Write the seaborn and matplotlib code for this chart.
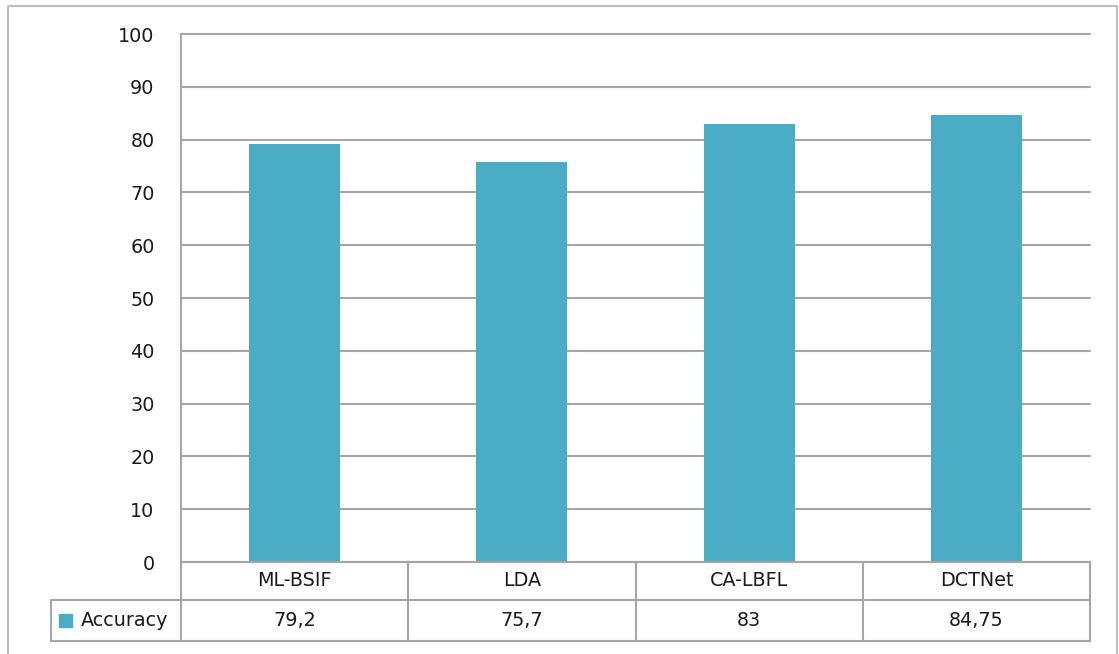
import matplotlib
matplotlib.use("Agg")
import matplotlib.pyplot as plt
import matplotlib.transforms as mtransforms
from matplotlib.patches import Rectangle
from matplotlib.lines import Line2D
import seaborn as sns
import pandas as pd

# Data
methods = ["ML-BSIF", "LDA", "CA-LBFL", "DCTNet"]
accuracy = [79.2, 75.7, 83, 84.75]
value_labels = ["79,2", "75,7", "83", "84,75"]
series_name = "Accuracy"
y_ticks = [0, 10, 20, 30, 40, 50, 60, 70, 80, 90, 100]

W, H = 1119, 654
BAR = "#4bacc6"
GRID = "#a6a6a6"
TXT = "#1a1a1a"
FS = 13.8

sns.set_theme(style="white")
plt.rcParams["font.family"] = ["DejaVu Sans"]

fig = plt.figure(figsize=(W / 100, H / 100), dpi=100)

def fx(x):
    return x / W

def fy(y):
    return 1 - y / H

# plot area in pixel coordinates
L, R, T, B = 181, 1090, 34, 562
ax = fig.add_axes([fx(L), fy(B), fx(R) - fx(L), fy(T) - fy(B)])

df = pd.DataFrame({"method": methods, "accuracy": accuracy})
sns.barplot(data=df, x="method", y="accuracy", color=BAR, saturation=1,
            width=0.4, ax=ax, zorder=3, linewidth=0)

ax.set_xlim(-0.5, len(methods) - 0.5)
ax.set_ylim(0, 100)
ax.set_yticks(y_ticks)
ax.set_yticklabels([str(t) for t in y_ticks], fontsize=FS, color=TXT)
ax.tick_params(axis="y", length=0, pad=19)
ax.set_xticks([])
ax.set_xlabel("")
ax.set_ylabel("")
ax.grid(axis="y", color=GRID, linewidth=1.5, zorder=0)
for gl in ax.get_ygridlines():
    gl.set_clip_on(False)
for s in ["top", "right", "bottom"]:
    ax.spines[s].set_visible(False)
ax.spines["left"].set_color(GRID)
ax.spines["left"].set_linewidth(1.5)

# data table below the plot: x follows the data columns, y in figure pixels
tr = mtransforms.blended_transform_factory(ax.transData, fig.transFigure)
row1_top, row2_top, row2_bot = 562, 600, 641
n = len(methods)
lw = 1.5
for i in range(n + 1):
    xb = i - 0.5
    fig.add_artist(Line2D([xb, xb], [fy(row1_top), fy(row2_bot)], transform=tr,
                          color=GRID, lw=lw, clip_on=False))
for yy in (row1_top, row2_top, row2_bot):
    fig.add_artist(Line2D([fx(L if yy == row1_top else 51), fx(R)], [fy(yy), fy(yy)],
                          transform=fig.transFigure, color=GRID, lw=lw))
fig.add_artist(Line2D([fx(51), fx(51)], [fy(row2_top), fy(row2_bot)],
                      transform=fig.transFigure, color=GRID, lw=lw))

for i, (m, v) in enumerate(zip(methods, value_labels)):
    fig.text(i, fy((row1_top + row2_top) / 2), m, transform=tr, ha="center",
             va="center", fontsize=FS, color=TXT)
    fig.text(i, fy((row2_top + row2_bot) / 2), v, transform=tr, ha="center",
             va="center", fontsize=FS, color=TXT)

# legend key in the table's first cell
fig.add_artist(Rectangle((fx(59), fy(627)), fx(13), fy(614) - fy(627),
                         transform=fig.transFigure, color=BAR))
fig.text(fx(81), fy((row2_top + row2_bot) / 2), series_name, ha="left",
         va="center", fontsize=FS, color=TXT)

# outer chart frame
fig.add_artist(Line2D([fx(8), fx(8), fx(1117), fx(1117)],
                      [fy(660), fy(6), fy(6), fy(660)],
                      transform=fig.transFigure, color="#bfbfbf", lw=1.5))

fig.savefig("out.png", dpi=100, facecolor="white")
